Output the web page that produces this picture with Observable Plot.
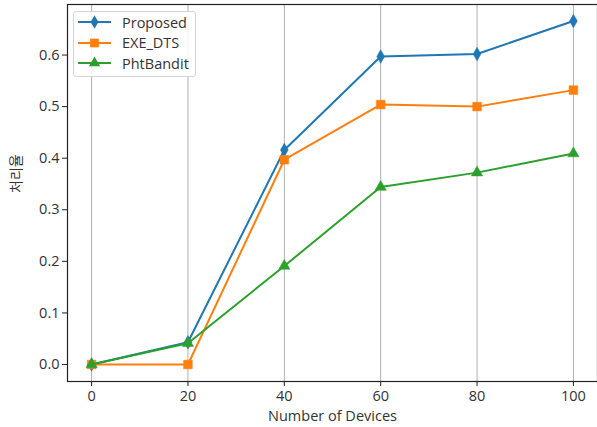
<!DOCTYPE html>
<html><head><meta charset="utf-8">
<script src="https://cdn.jsdelivr.net/npm/d3@7"></script>
<script src="https://cdn.jsdelivr.net/npm/@observablehq/plot@0.6"></script>
<style>
html,body{margin:0;padding:0;background:#fff;}
#wrap{position:relative;width:597px;height:427px;font-family:'Open Sans','Noto Sans CJK KR',sans-serif;}
#legend{position:absolute;left:73px;top:11px;width:123px;height:66px;border:1px solid #d4d4d4;border-radius:3px;background:rgba(255,255,255,0.85);box-sizing:border-box;}
.row{position:absolute;left:0;height:20px;display:flex;align-items:center;font-size:14.5px;color:#333;}
.row svg{margin-left:4px;margin-right:11px;}
</style>
</head><body>
<div id="wrap"><div id="legend"></div></div>
<script>
const devices = [0, 20, 40, 60, 80, 100];
const seriesNames = ["Proposed", "EXE_DTS", "PhtBandit"];
const proposed = [0.0, 0.043, 0.416, 0.597, 0.602, 0.666];
const exeDts = [0.0, 0.0, 0.397, 0.504, 0.500, 0.532];
const phtBandit = [0.0, 0.041, 0.191, 0.344, 0.372, 0.409];
const yTicks = [0, 0.1, 0.2, 0.3, 0.4, 0.5, 0.6];
const xLabel = "Number of Devices";
const yLabel = "처리율";

const colors = ["#1f77b4", "#ff7f0e", "#2ca02c"];
const symbols = ["diamond", "square", "triangle"];
const radii = [4.1, 4.9, 4.2];
const allValues = [proposed, exeDts, phtBandit];
const data = allValues.flatMap((vals, i) => vals.map((v, j) => ({series: seriesNames[i], x: devices[j], y: v})));

const marks = [
  Plot.gridX(devices, {stroke: "#b0b0b0", strokeOpacity: 1, strokeWidth: 1}),
  Plot.frame({stroke: "#222", strokeWidth: 1.2}),
  Plot.axisX(devices, {tickSize: 5, tickPadding: 4, fontSize: 14.5, label: null, stroke: "#222", fill: "#333"}),
  Plot.axisY(yTicks, {tickSize: 5, tickPadding: 3, fontSize: 14.5, label: null, tickFormat: d3.format(".1f"), stroke: "#222", fill: "#333"}),
  Plot.text([xLabel], {frameAnchor: "bottom", lineAnchor: "middle", dy: 35, fontSize: 14.5, fill: "#333"}),
  Plot.text([yLabel], {frameAnchor: "left", lineAnchor: "middle", rotate: -90, dx: -51, fontSize: 14, fill: "#333", fontFamily: "'Noto Sans CJK KR'"})
];
seriesNames.forEach((name, i) => {
  const d = data.filter(r => r.series === name);
  marks.push(Plot.line(d, {x: "x", y: "y", stroke: colors[i], strokeWidth: 2}));
  marks.push(Plot.dot(d, {x: "x", y: "y", fill: colors[i], stroke: colors[i], strokeWidth: 0.5, symbol: symbols[i], r: radii[i]}));
});

const chart = Plot.plot({
  width: 597, height: 427,
  marginLeft: 67, marginTop: 4, marginRight: 0, marginBottom: 46,
  style: {fontFamily: "'Open Sans','Noto Sans CJK KR',sans-serif", fontSize: "14.5px", color: "#333", background: "white"},
  x: {domain: [-5, 105]},
  y: {domain: [-0.033, 0.698]},
  marks
});
const wrap = document.getElementById("wrap");
wrap.insertBefore(chart, wrap.firstChild);

// legend
const legend = document.getElementById("legend");
const symMap = {diamond: d3.symbolDiamond, square: d3.symbolSquare, triangle: d3.symbolTriangle};
seriesNames.forEach((name, i) => {
  const row = document.createElement("div");
  row.className = "row";
  row.style.top = (0 + i * 20.5) + "px";
  const ns = "http://www.w3.org/2000/svg";
  const s = document.createElementNS(ns, "svg");
  s.setAttribute("width", 33); s.setAttribute("height", 20);
  const ln = document.createElementNS(ns, "line");
  ln.setAttribute("x1", 0); ln.setAttribute("x2", 33); ln.setAttribute("y1", 10); ln.setAttribute("y2", 10);
  ln.setAttribute("stroke", colors[i]); ln.setAttribute("stroke-width", 2);
  s.appendChild(ln);
  const p = document.createElementNS(ns, "path");
  p.setAttribute("d", d3.symbol(symMap[symbols[i]], Math.PI * radii[i] * radii[i])());
  p.setAttribute("transform", "translate(16.5,10)");
  p.setAttribute("fill", colors[i]);
  s.appendChild(p);
  row.appendChild(s);
  row.appendChild(document.createTextNode(name));
  legend.appendChild(row);
});
</script>
</body></html>
